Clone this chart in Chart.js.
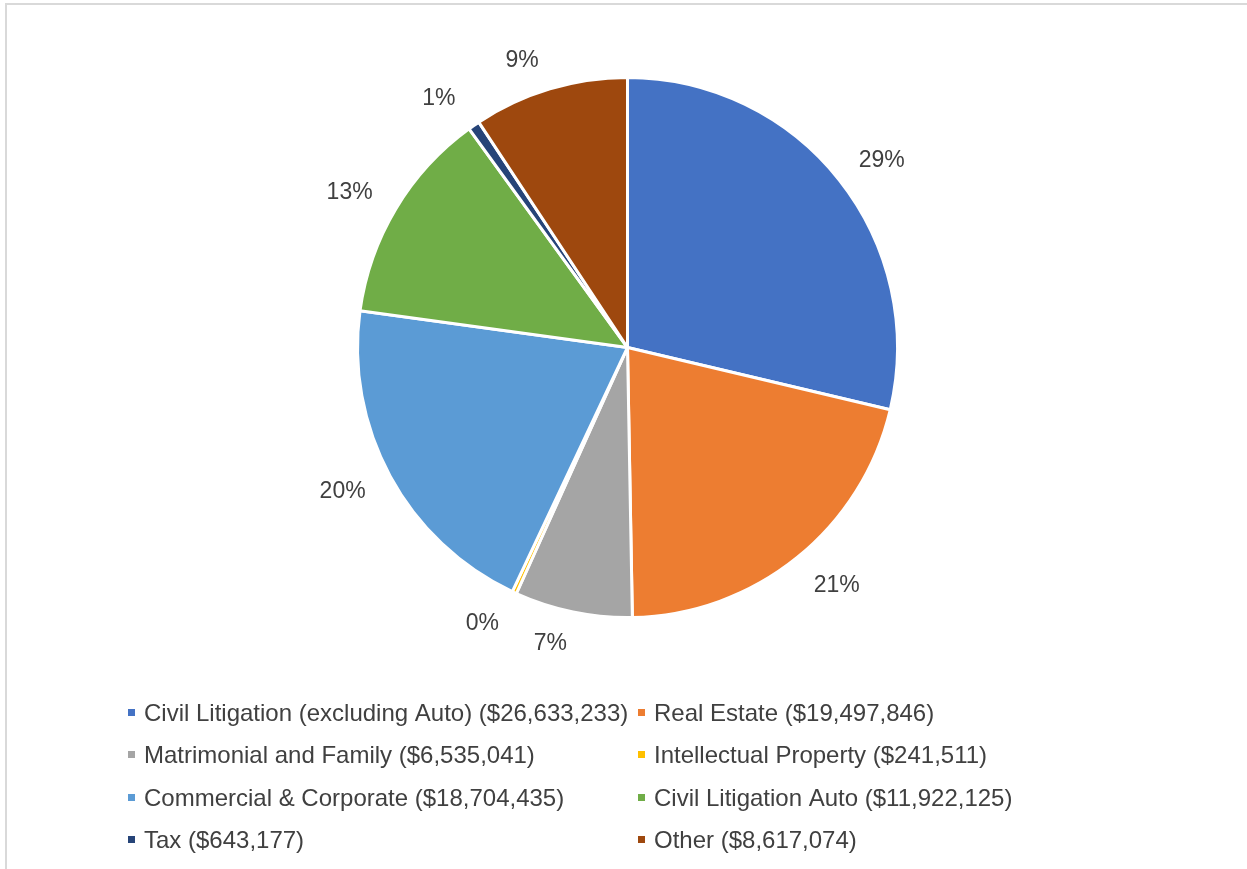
<!DOCTYPE html>
<html>
<head>
<meta charset="utf-8">
<script src="https://cdn.jsdelivr.net/npm/chart.js@4/dist/chart.umd.min.js"></script>
<style>
  html, body { margin: 0; padding: 0; background: #fff; overflow: hidden; }
  .frame {
    position: absolute; left: 5px; top: 3px; width: 1260px; height: 900px;
    border: 2px solid #d9d9d9; box-sizing: border-box;
  }
  .wrap { position: absolute; left: 0; top: 0; width: 1247px; height: 869px; }
</style>
</head>
<body>
<div class="frame"></div>
<div class="wrap"><canvas id="practiceChart" width="1247" height="869"></canvas></div>
<script>
const categories = [
  'Civil Litigation (excluding Auto)',
  'Real Estate',
  'Matrimonial and Family',
  'Intellectual Property',
  'Commercial & Corporate',
  'Civil Litigation Auto',
  'Tax',
  'Other'
];
const amounts = [26633233, 19497846, 6535041, 241511, 18704435, 11922125, 643177, 8617074];
const sliceColors = ['#4472C4', '#ED7D31', '#A5A5A5', '#FFC000', '#5B9BD5', '#70AD47', '#264478', '#9E480E'];

const TEXT_COLOR = '#404040';
const LABEL_FONT = '23px "Liberation Sans", Arial, sans-serif';
const LEGEND_FONT = '24px "Liberation Sans", Arial, sans-serif';

const money = (v) => '$' + v.toLocaleString('en-US');

// percentage labels at the outside end of each slice
const percentLabels = {
  id: 'percentLabels',
  afterDatasetsDraw(chart) {
    const { ctx } = chart;
    const meta = chart.getDatasetMeta(0);
    const values = chart.data.datasets[0].data;
    const total = values.reduce((a, b) => a + b, 0);
    ctx.save();
    ctx.font = LABEL_FONT;
    ctx.fillStyle = TEXT_COLOR;
    ctx.textAlign = 'center';
    ctx.textBaseline = 'middle';
    meta.data.forEach((arc, i) => {
      const { x, y, startAngle, endAngle, outerRadius } = arc.getProps(['x', 'y', 'startAngle', 'endAngle', 'outerRadius'], true);
      const text = Math.round(values[i] / total * 100) + '%';
      const mid = (startAngle + endAngle) / 2;
      const dx = Math.cos(mid), dy = Math.sin(mid);
      const hw = ctx.measureText(text).width / 2 + 11;
      const hh = 12;
      const d = outerRadius + 20;
      let lx = x + dx * d + dx * hw;
      let ly = y + dy * d + dy * hh;
      // crowded small slices get pushed aside
      if (i === 1) { lx += 6; ly += 3; }
      if (i === 2) lx -= 13;
      if (i === 3) { lx -= 12; ly += 2; }
      if (i === 6) lx -= 8;
      if (i === 7) { lx -= 14; ly += 2; }
      ctx.fillText(text, lx, ly);
    });
    ctx.restore();
  }
};

// two-column legend under the pie
const gridLegend = {
  id: 'gridLegend',
  afterDraw(chart) {
    const { ctx } = chart;
    const values = chart.data.datasets[0].data;
    const colX = [128, 638];
    const rowY = [713, 755, 798, 840];
    ctx.save();
    ctx.font = LEGEND_FONT;
    ctx.textBaseline = 'middle';
    ctx.textAlign = 'left';
    chart.data.labels.forEach((label, i) => {
      const cx = colX[i % 2];
      const cy = rowY[Math.floor(i / 2)];
      ctx.fillStyle = chart.data.datasets[0].backgroundColor[i];
      ctx.fillRect(cx, cy - 4, 7, 7);
      ctx.fillStyle = TEXT_COLOR;
      ctx.fillText(label + ' (' + money(values[i]) + ')', cx + 16, cy + 1);
    });
    ctx.restore();
  }
};

new Chart(document.getElementById('practiceChart').getContext('2d'), {
  type: 'pie',
  data: {
    labels: categories,
    datasets: [{
      data: amounts,
      backgroundColor: sliceColors,
      borderColor: '#ffffff',
      borderWidth: 3
    }]
  },
  options: {
    responsive: false,
    animation: false,
    layout: { padding: { top: 75, bottom: 249, left: 356, right: 348 } },
    plugins: {
      legend: { display: false },
      tooltip: { enabled: false }
    }
  },
  plugins: [percentLabels, gridLegend]
});
</script>
</body>
</html>
